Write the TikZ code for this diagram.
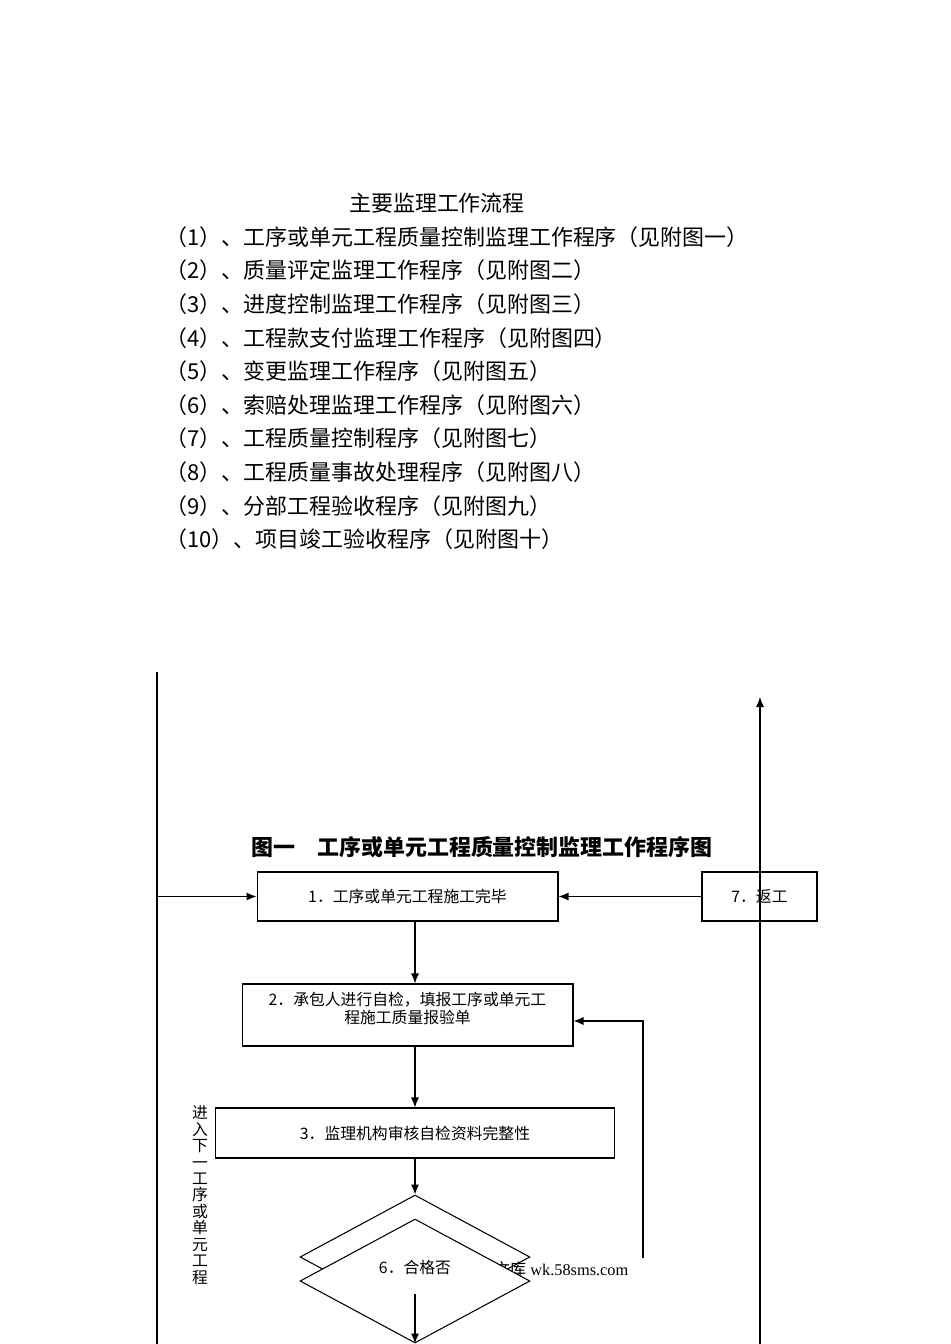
\documentclass[tikz,border=0pt]{standalone}
\usepackage{fontspec}
\newfontfamily\cjk{Noto Sans CJK SC}
\newfontfamily\wmfont{Liberation Serif}
\usetikzlibrary{arrows.meta,positioning,shapes.geometric}

\tikzset{
  box/.style={draw, line width=0.6pt, inner sep=0pt, font=\cjk\fontsize{9}{10.5}\selectfont},
  decide/.style={diamond, draw, fill=white, line width=0.6pt, inner sep=0pt,
    minimum width=4.6cm, minimum height=2.48cm, font=\cjk\fontsize{9}{10.5}\selectfont},
  listtext/.style={anchor=west, inner sep=0pt, font=\cjk\fontsize{12.5}{14}\selectfont},
}

\begin{document}
\begin{tikzpicture}[x=0.02cm, y=-0.02cm, line width=0.6pt, >={Latex[length=2mm,width=1.6mm]}]
  \useasboundingbox (0,0) rectangle (950,1344);

  % list of procedures
  \node[font=\cjk\fontsize{12.5}{14}\selectfont, inner sep=0pt] (head) at (437,203) {主要监理工作流程};
  \foreach \txt [count=\i] in {
      （1）、工序或单元工程质量控制监理工作程序（见附图一）,
      （2）、质量评定监理工作程序（见附图二）,
      （3）、进度控制监理工作程序（见附图三）,
      （4）、工程款支付监理工作程序（见附图四）,
      （5）、变更监理工作程序（见附图五）,
      （6）、索赔处理监理工作程序（见附图六）,
      （7）、工程质量控制程序（见附图七）,
      （8）、工程质量事故处理程序（见附图八）,
      （9）、分部工程验收程序（见附图九）,
      （10）、项目竣工验收程序（见附图十）}
    \node[listtext] (item\i) at (165,{237+(\i-1)*33.6}) {\txt};

  % figure one
  \node[font=\cjk\bfseries\fontsize{12.5}{14}\selectfont, inner sep=0pt] (fig) at (482,847) {图一\quad 工序或单元工程质量控制监理工作程序图};

  \node[box, minimum width=6.02cm, minimum height=0.98cm] (b1) at (407.5,896.5) {1．工序或单元工程施工完毕};
  \node[box, minimum width=2.3cm, minimum height=0.98cm] (b7) at (759.5,896.5) {7．返工};
  \node[box, minimum width=6.62cm, minimum height=1.24cm, align=center] (b2) at (407.5,1015)
    {2．承包人进行自检，填报工序或单元工\\程施工质量报验单\\[-2.5pt]~};
  \node[box, minimum width=8cm, minimum height=1cm] (b3) at (415,1133) {3．监理机构审核自检资料完整性};

  \node[decide] (q4) at (415,1257) {};
  \node[font=\wmfont\fontsize{9.3}{11}\selectfont, inner sep=0pt, anchor=west] (wm) at (493,1269)
    {{\cjk 文库} wk.58sms.com};
  \node[decide, text height=0.25cm, text depth=0.57cm] (q6) at (415,1281) {6．合格否};

  \node[font=\cjk\fontsize{9}{9.35}\selectfont, align=center, inner sep=0pt] (side) at (200,1195)
    {进\\入\\下\\一\\工\\序\\或\\单\\元\\工\\程};

  \coordinate (ltop) at (157,672);
  \coordinate (lbot) at (157,1344);
  \coordinate (rtop) at (760,697);
  \coordinate (rbot) at (760,1344);
  \coordinate (fb) at (643,1258);
  \coordinate (q6in) at (415,1294);

  \draw (ltop) -- (lbot);
  \draw[->] (ltop |- b1) -- (b1.west);
  \draw[->] (b7) -- (b1);
  \draw[->] (b1.south -| b3) -- (b2.north -| b3);
  \draw[->] (b2.south -| b3) -- (b3.north);
  \draw[->] (b3.south) -- (q4.north);
  \draw[->] (fb) |- ([yshift=-0.12cm]b2.east);
  \draw[->] (q6in) -- (q6.south);
  \draw[->] (rbot) -- (rtop);
\end{tikzpicture}
\end{document}
